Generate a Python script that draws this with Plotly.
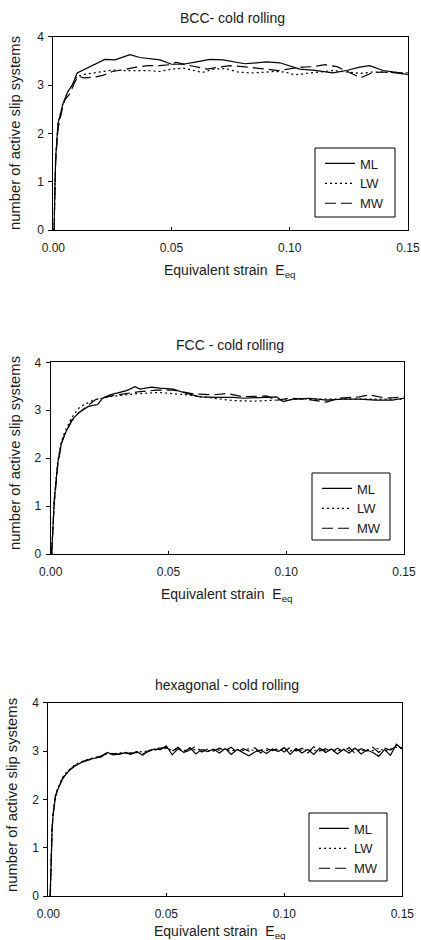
import plotly.graph_objects as go

# ---------------- data ----------------
series_names = ["ML", "LW", "MW"]
panel_titles = ["BCC- cold rolling", "FCC - cold rolling", "hexagonal - cold rolling"]
x_tick_vals = [0.0, 0.05, 0.10, 0.15]
y_tick_vals = [0, 1, 2, 3, 4]

# BCC
bcc_ml_x = [0.0003, 0.001, 0.002, 0.004, 0.006, 0.008, 0.0101, 0.0141, 0.0183, 0.0218, 0.0261, 0.0324, 0.0366,
            0.0408, 0.0451, 0.05, 0.0549, 0.0606, 0.0662, 0.0718, 0.0761, 0.081, 0.0859, 0.0901, 0.0958, 0.1,
            0.1042, 0.1099, 0.1183, 0.124, 0.1296, 0.1338, 0.1394, 0.1465, 0.1521]
bcc_ml_y = [0, 1.5, 2.2, 2.6, 2.85, 3.0, 3.25, 3.35, 3.45, 3.53, 3.52, 3.63, 3.57, 3.55, 3.52, 3.43, 3.43, 3.48,
            3.53, 3.52, 3.48, 3.44, 3.46, 3.48, 3.46, 3.40, 3.33, 3.31, 3.25, 3.30, 3.37, 3.40, 3.30, 3.25, 3.19]
bcc_lw_x = [0.0003, 0.001, 0.002, 0.004, 0.006, 0.008, 0.010, 0.013, 0.017, 0.021, 0.025, 0.03, 0.035, 0.04,
            0.045, 0.05, 0.055, 0.06, 0.063, 0.068, 0.073, 0.078, 0.083, 0.088, 0.093, 0.098, 0.102, 0.107,
            0.112, 0.118, 0.124, 0.13, 0.135, 0.14, 0.145, 0.15]
bcc_lw_y = [0, 1.5, 2.2, 2.6, 2.85, 3.0, 3.18, 3.22, 3.25, 3.28, 3.31, 3.3, 3.3, 3.3, 3.28, 3.33, 3.35, 3.3,
            3.26, 3.33, 3.34, 3.27, 3.25, 3.26, 3.28, 3.27, 3.21, 3.24, 3.27, 3.3, 3.27, 3.24, 3.27, 3.27, 3.26, 3.25]
bcc_mw_x = [0.0003, 0.001, 0.002, 0.004, 0.005, 0.007, 0.009, 0.0105, 0.013, 0.017, 0.021, 0.025, 0.03, 0.035,
            0.04, 0.045, 0.049, 0.052, 0.056, 0.06, 0.065, 0.07, 0.075, 0.08, 0.085, 0.09, 0.095, 0.1, 0.105,
            0.11, 0.115, 0.12, 0.125, 0.13, 0.135, 0.14, 0.145, 0.15]
bcc_mw_y = [0, 1.4, 2.1, 2.55, 2.7, 2.82, 3.05, 3.18, 3.15, 3.16, 3.2, 3.28, 3.32, 3.37, 3.4, 3.4, 3.42, 3.47,
            3.42, 3.38, 3.33, 3.37, 3.40, 3.38, 3.36, 3.33, 3.30, 3.33, 3.37, 3.38, 3.42, 3.38, 3.26, 3.15,
            3.26, 3.27, 3.25, 3.22]

# FCC
fcc_ml_x = [0.0004, 0.0008, 0.0015, 0.003, 0.0045, 0.006, 0.009, 0.012, 0.014, 0.016, 0.018, 0.02, 0.022,
            0.0252, 0.0322, 0.0358, 0.0379, 0.0428, 0.0464, 0.052, 0.0577, 0.0633, 0.0704, 0.0775, 0.0817,
            0.0888, 0.0959, 0.0987, 0.1029, 0.11, 0.117, 0.124, 0.131, 0.138, 0.145, 0.15]
fcc_ml_y = [0, 0.5, 1.1, 1.9, 2.3, 2.5, 2.8, 2.95, 3.02, 3.08, 3.1, 3.12, 3.25, 3.32, 3.41, 3.49, 3.44, 3.48,
            3.46, 3.44, 3.35, 3.28, 3.27, 3.27, 3.25, 3.27, 3.28, 3.18, 3.23, 3.25, 3.21, 3.23, 3.23, 3.21,
            3.21, 3.25]
fcc_lw_x = [0.0004, 0.0008, 0.0015, 0.003, 0.0045, 0.006, 0.009, 0.0124, 0.018, 0.025, 0.035, 0.046, 0.058,
            0.066, 0.0775, 0.086, 0.096, 0.106, 0.12, 0.134, 0.15]
fcc_lw_y = [0, 0.55, 1.15, 1.95, 2.35, 2.55, 2.85, 3.07, 3.21, 3.28, 3.34, 3.37, 3.32, 3.27, 3.2, 3.19, 3.21,
            3.23, 3.23, 3.23, 3.23]
fcc_mw_x = [0.0004, 0.0008, 0.0015, 0.003, 0.0045, 0.006, 0.009, 0.012, 0.016, 0.019, 0.021, 0.028, 0.038,
            0.045, 0.052, 0.0605, 0.069, 0.0747, 0.0817, 0.0916, 0.096, 0.1015, 0.1086, 0.117, 0.1227, 0.131,
            0.1355, 0.1425, 0.15]
fcc_mw_y = [0, 0.5, 1.05, 1.85, 2.3, 2.5, 2.78, 2.95, 3.1, 3.22, 3.25, 3.32, 3.39, 3.42, 3.42, 3.34, 3.32,
            3.35, 3.28, 3.30, 3.21, 3.25, 3.23, 3.17, 3.25, 3.28, 3.32, 3.25, 3.28]

# hexagonal
hex_x = [0.0008, 0.001, 0.0013, 0.0016, 0.002, 0.0025, 0.003, 0.004, 0.005, 0.006, 0.0075, 0.009, 0.011,
         0.013, 0.015, 0.0175, 0.02, 0.0225,
         0.025, 0.0275, 0.03, 0.0325, 0.035, 0.0375, 0.04, 0.0425, 0.045, 0.0475,
         0.05, 0.0525, 0.055, 0.0575, 0.06, 0.0625, 0.065, 0.0675, 0.07, 0.0725,
         0.075, 0.0775, 0.08, 0.0825, 0.085, 0.0875, 0.09, 0.0925, 0.095, 0.0975,
         0.1, 0.1025, 0.105, 0.1075, 0.11, 0.1125, 0.115, 0.1175, 0.12, 0.1225,
         0.125, 0.1275, 0.13, 0.1325, 0.135, 0.1375, 0.14, 0.1425, 0.145, 0.1475,
         0.15]
hex_ml_y = [0, 0.5, 1.0, 1.35, 1.65, 1.9, 2.05, 2.2, 2.32, 2.42, 2.52, 2.6, 2.68, 2.74, 2.79, 2.83, 2.86, 2.88,
            2.97, 2.92, 2.94, 2.96, 2.93, 2.99, 2.91, 3.01, 3.04, 3.03,
            3.11, 2.92, 3.05, 2.97, 3.07, 2.94, 3.03, 2.99, 3.04, 2.96,
            3.05, 2.93, 3.03, 2.97, 2.90, 2.98, 3.02, 2.95, 3.04, 2.99,
            3.07, 2.93, 3.05, 2.96, 3.03, 2.93, 3.06, 2.97, 3.04, 2.94,
            3.03, 2.96, 3.06, 2.94, 3.02, 2.97, 2.89, 3.03, 2.91, 3.14,
            3.04]
hex_lw_y = [0, 0.55, 1.05, 1.4, 1.7, 1.95, 2.08, 2.23, 2.35, 2.45, 2.55, 2.62, 2.7, 2.76, 2.8, 2.84, 2.87, 2.89,
            2.95, 2.94, 2.96, 2.97, 2.96, 2.98, 2.99, 3.00, 3.02, 3.04,
            3.06, 3.02, 3.04, 3.01, 3.05, 3.02, 3.04, 3.00, 3.03, 3.02,
            3.04, 3.00, 3.03, 3.01, 3.05, 3.00, 3.03, 3.01, 3.04, 3.02,
            3.05, 3.00, 3.04, 3.01, 3.03, 3.00, 3.05, 3.01, 3.03, 3.00,
            3.04, 3.01, 3.05, 3.00, 3.03, 3.01, 3.06, 3.00, 3.04, 3.08,
            3.05]
hex_mw_y = [0, 0.5, 1.02, 1.38, 1.68, 1.92, 2.06, 2.21, 2.33, 2.43, 2.53, 2.61, 2.69, 2.75, 2.78, 2.82, 2.85, 2.9,
            2.96, 2.95, 2.93, 2.97, 2.95, 2.97, 2.94, 2.99, 3.05, 3.06,
            3.07, 3.00, 3.08, 2.97, 3.02, 3.10, 2.98, 3.04, 3.00, 3.06,
            3.01, 3.08, 2.97, 3.05, 3.00, 3.07, 2.96, 3.05, 3.01, 3.06,
            2.98, 3.08, 3.00, 3.06, 2.96, 3.09, 3.00, 3.05, 2.97, 3.06,
            2.99, 3.07, 2.95, 3.05, 3.00, 3.08, 2.97, 3.06, 3.02, 3.10,
            3.06]

panels = [
    [(bcc_ml_x, bcc_ml_y), (bcc_lw_x, bcc_lw_y), (bcc_mw_x, bcc_mw_y)],
    [(fcc_ml_x, fcc_ml_y), (fcc_lw_x, fcc_lw_y), (fcc_mw_x, fcc_mw_y)],
    [(hex_x, hex_ml_y), (hex_x, hex_lw_y), (hex_x, hex_mw_y)],
]

# ---------------- layout geometry (pixels) ----------------
W, H = 421, 940
# plot area: left, right, top, bottom
boxes = [(53.3, 408, 36.7, 230), (50.7, 404, 362.3, 554), (48.3, 402.3, 702.7, 896)]
# legend frames: left, top, right, bottom
legend_boxes = [(315, 148, 395, 217), (312, 473, 390, 540), (309, 813, 387, 881)]
title_pos = [(233, 18), (230, 345), (227, 685)]
xtitle_pos = [(230, 271), (227, 595), (220, 932)]
ytitle_pos = [(15, 133), (15, 453), (12, 795)]

dashes = ["solid", "2px,3px", "11px,5px"]
FONT = "Liberation Sans, Arial, sans-serif"
TXT = "#1a1a1a"

fig = go.Figure()
layout = dict(
    width=W, height=H, margin=dict(l=0, r=0, t=0, b=0, autoexpand=False),
    paper_bgcolor="white", plot_bgcolor="white", showlegend=True,
    font=dict(family=FONT, size=12, color=TXT),
)
annotations = []
shapes = []

for i, (series, box) in enumerate(zip(panels, boxes)):
    k = "" if i == 0 else str(i + 1)
    leg = "legend" if i == 0 else "legend" + str(i + 1)
    for name, (xs, ys), d in zip(series_names, series, dashes):
        fig.add_trace(go.Scatter(
            x=xs, y=ys, mode="lines", name=name,
            line=dict(color="black", width=1.2, dash=d),
            xaxis="x" + k, yaxis="y" + k, legend=leg,
        ))
    l, r, t, b = box
    axis_common = dict(showgrid=False, zeroline=False, showline=True, linecolor="black", linewidth=1,
                       mirror=True, tickcolor="black", automargin=False,
                       tickfont=dict(family=FONT, size=12, color=TXT))
    layout["xaxis" + k] = dict(axis_common, domain=[l / W, r / W], range=[0, 0.15],
                               ticks="inside", ticklen=3, ticklabelstandoff=7,
                               tickvals=x_tick_vals, tickformat=".2f", anchor="y" + k)
    layout["yaxis" + k] = dict(axis_common, domain=[1 - b / H, 1 - t / H], range=[0, 4],
                               ticks="outside", ticklen=4, ticklabelstandoff=2,
                               tickvals=y_tick_vals, anchor="x" + k)
    bl, bt, br, bb = legend_boxes[i]
    shapes.append(dict(type="rect", xref="paper", yref="paper", x0=bl / W, x1=br / W,
                       y0=1 - bb / H, y1=1 - bt / H, line=dict(color="black", width=1),
                       fillcolor="rgba(0,0,0,0)", layer="above"))
    layout[leg] = dict(x=(bl + 5) / W, y=1 - (bt + 0.5) / H, xanchor="left", yanchor="top",
                       borderwidth=0, bgcolor="rgba(0,0,0,0)",
                       font=dict(family=FONT, size=13, color=TXT), tracegroupgap=0)
    tx, ty = title_pos[i]
    annotations.append(dict(text=panel_titles[i], x=tx / W, y=1 - ty / H, xref="paper", yref="paper",
                            showarrow=False, font=dict(size=14), xanchor="center", yanchor="middle"))
    ax_, ay_ = xtitle_pos[i]
    annotations.append(dict(text="Equivalent strain  E<sub>eq</sub>", x=ax_ / W, y=1 - ay_ / H,
                            xref="paper", yref="paper", showarrow=False, font=dict(size=14),
                            xanchor="center", yanchor="middle"))
    yx, yy = ytitle_pos[i]
    annotations.append(dict(text="number of active slip systems", x=yx / W, y=1 - yy / H,
                            xref="paper", yref="paper", showarrow=False, font=dict(size=14.8),
                            textangle=-90, xanchor="center", yanchor="middle"))

layout["annotations"] = annotations
layout["shapes"] = shapes
fig.update_layout(**layout)
fig.write_html("out.html", config={"displayModeBar": False},
               post_script="document.body.style.margin='0';document.body.style.overflow='hidden';")
